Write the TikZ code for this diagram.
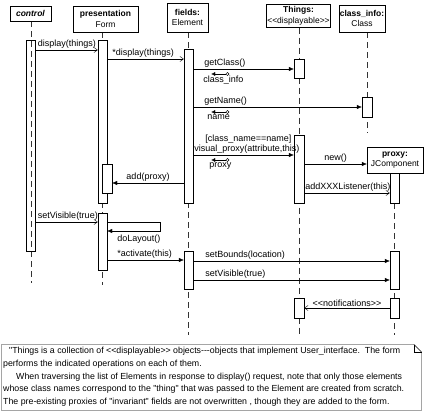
\documentclass[tikz,border=0pt]{standalone}
\usepackage{fontspec}
\setmainfont{Liberation Sans}[Ligatures=TeXOff]
\usetikzlibrary{arrows.meta, positioning, calc, backgrounds}

\begin{document}
\begin{tikzpicture}[
  x=1pt, y=-1pt,
  font=\fontsize{9}{10}\selectfont,
  obj/.style={draw=black, fill=white, align=center, inner sep=1.5pt, font=\fontsize{8.5}{10.5}\selectfont},
  act/.style={draw=black, fill=white, minimum width=9pt, inner sep=0pt},
  life/.style={draw=black!80, dash pattern=on 6pt off 4pt},
  call/.style={draw, -{Latex[length=5pt,width=4.5pt]}},
  send/.style={draw, -{Straight Barb[length=3.5pt,width=5pt]}},
  ret/.style={draw, {Latex[length=4pt,width=4pt]}-{Circle[open,length=3.5pt]}},
  lbl/.style={inner sep=1pt},
]
  \useasboundingbox (0,0) rectangle (425,412);

  % ── Objects ────────────────────────────────
  \node[obj, minimum width=41pt, minimum height=15pt] (ctrl) at (30.5,13.5) {\textbf{\textit{control}}};
  \node[obj, minimum width=65pt, minimum height=26pt] (pres) at (105.5,19) {\textbf{presentation}\\Form};
  \node[obj, minimum width=41pt, minimum height=29pt] (fields) at (187.5,17.5) {\textbf{fields:}\\Element};
  \node[obj, inner sep=1pt, minimum height=23pt] (things) at (298.5,16) {\textbf{Things:}\\<<displayable>>};
  \node[obj, inner sep=1pt, minimum height=27pt] (cls) at (362,18.5) {\textbf{class\_info:}\\Class};
  \node[obj, minimum width=56pt, minimum height=26pt] (proxy) at (395,160) {\textbf{proxy:}\\JComponent};

  % ── Activations ────────────────────────────
  \node[act, fill=none, minimum height=211pt] (ctrlA) at (31,145.5) {};
  \node[act, minimum height=163pt] (presA1) at (102.5,121.5) {};
  \node[act, minimum width=10pt, minimum height=29pt] (presN) at (107,178.5) {};
  \node[act, minimum height=57pt] (presA2) at (102.5,241.5) {};
  \node[act, minimum height=154pt] (fieldsA1) at (188.5,126) {};
  \node[act, minimum height=38pt] (fieldsA2) at (188.5,270) {};
  \node[act, minimum width=10pt, minimum height=19pt] (thingsA1) at (299,68.5) {};
  \node[act, minimum width=10pt, minimum height=68pt] (thingsA2) at (299,169) {};
  \node[act, minimum width=10pt, minimum height=20pt] (thingsA3) at (299,308) {};
  \node[act, minimum width=10pt, minimum height=20pt] (clsA) at (367,107) {};
  \node[act, minimum height=30pt] (proxyA1) at (394.5,188) {};
  \node[act, minimum height=38pt] (proxyA2) at (394.5,270) {};
  \node[act, minimum height=20pt] (proxyA3) at (394.5,308) {};

  % ── Lifelines ──────────────────────────────
  \begin{pgfonlayer}{background}
    \draw[life] (ctrlA |- ctrl.south) -- (ctrlA |- 0,283);
    \draw[life] (presA1 |- pres.south) -- (presA1 |- 0,285);
    \draw[life] (fieldsA1 |- fields.south) -- (fieldsA1 |- 0,335);
    \draw[life] (thingsA1 |- things.south) -- (thingsA1 |- 0,335);
    \draw[life] (clsA |- cls.south) -- (clsA |- 0,133);
    \draw[life] (proxyA1 |- proxy.south) -- (proxyA1 |- 0,335);
  \end{pgfonlayer}

  % ── Messages ───────────────────────────────
  \draw[send] (ctrlA.east |- 0,50) -- node[lbl, pos=0, above right=0pt and 1pt] (l1) {display(things)} (presA1.west |- 0,50);
  \draw[send] (presA1.east |- 0,59) -- node[lbl, pos=0, above right=0pt and 4pt] (l2) {*display(things)} (fieldsA1.west |- 0,59);

  \draw[call] (fieldsA1.east |- 0,69) -- node[lbl, pos=0, above right=0pt and 10pt] (l3) {getClass()} (thingsA1.west |- 0,69);
  \draw[ret] ($(fieldsA1.east |- 0,74)+(18,0)$) -- ++(18,0) node[lbl, pos=0, anchor=north west, xshift=-9pt, yshift=-1pt] (r3) {class\_info};

  \draw[call] (fieldsA1.east |- 0,107) -- node[lbl, pos=0, above right=0pt and 10pt] (l4) {getName()} (clsA.west |- 0,107);
  \draw[ret] ($(fieldsA1.east |- 0,112)+(18,0)$) -- ++(18,0) node[lbl, pos=0, anchor=north west, xshift=-5pt, yshift=-1pt] (r4) {name};

  \node[lbl, anchor=base west] (guard) at ($(fieldsA1.east |- 0,141)+(11,0)$) {[class\_name==name]};
  \draw[call] (fieldsA1.east |- 0,155) -- node[lbl, pos=0, above right=0pt and 0pt] (l5) {visual\_proxy(attribute,this)} (thingsA2.west |- 0,155);
  \draw[ret] ($(fieldsA1.east |- 0,160)+(18,0)$) -- ++(18,0) node[lbl, pos=0, anchor=north west, xshift=-3pt, yshift=-1pt] (r5) {proxy};

  \draw[call] (thingsA2.east |- 0,164) -- node[lbl, midway, above] (l6) {new()} (proxy.west |- 0,164);
  \draw[send] (thingsA2.east |- 0,193) -- node[lbl, pos=0, above right=0pt and 0pt] (l7) {addXXXListener(this)} (proxyA1.west |- 0,193);
  \draw[call] (fieldsA1.west |- 0,183) -- node[lbl, midway, above] (l8) {add(proxy)} (presN.east |- 0,183);

  \draw[send] (ctrlA.east |- 0,222) -- node[lbl, pos=0, above right=0pt and 1pt] (l9) {setVisible(true)} (presA2.west |- 0,222);
  \draw[call] (presA2.east |- 0,222) -- ++(53,0) |- (presA2.east |- 0,231) node[lbl, anchor=north west, xshift=9pt, yshift=-3pt] (l10) {doLayout()};
  \draw[call] (presA2.east |- 0,260) -- node[lbl, pos=0, above right=0pt and 9pt] (l11) {*activate(this)} (fieldsA2.west |- 0,260);

  \draw[call] (fieldsA2.east |- 0,261) -- node[lbl, pos=0, above right=0pt and 11pt] (l12) {setBounds(location)} (proxyA2.west |- 0,261);
  \draw[call] (fieldsA2.east |- 0,280) -- node[lbl, pos=0, above right=0pt and 11pt] (l13) {setVisible(true)} (proxyA2.west |- 0,280);
  \draw[send] (proxyA3.west |- 0,308) -- node[lbl, midway, above] (l14) {<<notifications>>} (thingsA3.east |- 0,308);

  % ── Note ───────────────────────────────────
  \node[anchor=north west, inner sep=0pt, align=left, font=\fontsize{8.8}{12.75}\selectfont] (notetext) at (3,347)
    {\hspace*{6pt}"Things is a collection of <<displayable>> objects---objects that implement User\_interface.\ \ The form\\
     performs the indicated operations on each of them.\\
     \hspace*{13pt}When traversing the list of Elements in response to display() request, note that only those elements\\
     whose class names correspond to the "thing" that was passed to the Element are created from scratch.\\
     The pre-existing proxies of "invariant" fields are not overwritten , though they are added to the form.};
  \coordinate (nw) at (1.5,344.5);
  \coordinate (se) at (421.5,410.5);
  \draw (nw) -- (nw -| 414,0) -- (se |- 0,352) -- (se) -- (nw |- se) -- cycle;
  \draw (nw -| 414,0) -- (414,352) -- (se |- 0,352);
\end{tikzpicture}
\end{document}
